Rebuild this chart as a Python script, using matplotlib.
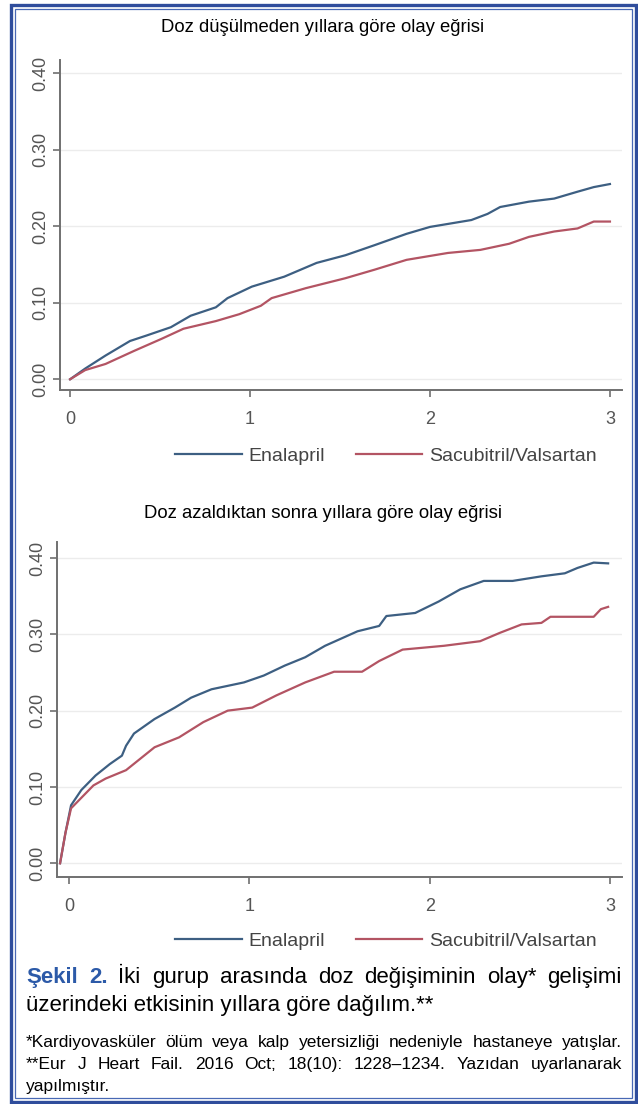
import matplotlib
matplotlib.use("Agg")
import matplotlib.pyplot as plt
from matplotlib.patches import Rectangle

plt.rcParams["font.family"] = ["Liberation Sans", "DejaVu Sans"]

# 1 - DATA
title1 = "Doz düşülmeden yıllara göre olay eğrisi"
title2 = "Doz azaldıktan sonra yıllara göre olay eğrisi"
series_names = ["Enalapril", "Sacubitril/Valsartan"]
x_ticks = [0, 1, 2, 3]
y_ticks = [0.0, 0.1, 0.2, 0.3, 0.4]
y_tick_labels = ["0.00", "0.10", "0.20", "0.30", "0.40"]

# chart 1: without dose reduction
enal1_x = [0, 0.084, 0.197, 0.333, 0.423, 0.56, 0.67, 0.81, 0.875, 1.01, 1.19, 1.37, 1.53,
           1.69, 1.87, 2.0, 2.23, 2.32, 2.39, 2.55, 2.69, 2.82, 2.91, 3.0]
enal1_y = [0, 0.014, 0.031, 0.050, 0.057, 0.068, 0.083, 0.094, 0.106, 0.121, 0.134, 0.152, 0.162,
           0.175, 0.190, 0.199, 0.208, 0.216, 0.225, 0.232, 0.236, 0.245, 0.251, 0.255]
sac1_x = [0, 0.084, 0.197, 0.355, 0.51, 0.63, 0.81, 0.94, 1.06, 1.12, 1.31, 1.53, 1.69, 1.87,
          2.10, 2.28, 2.44, 2.55, 2.69, 2.82, 2.91, 3.0]
sac1_y = [0, 0.012, 0.020, 0.037, 0.053, 0.066, 0.076, 0.085, 0.096, 0.106, 0.119, 0.132, 0.143,
          0.156, 0.165, 0.169, 0.177, 0.186, 0.193, 0.197, 0.206, 0.206]

# chart 2: after dose reduction
enal2_x = [-0.05, -0.02, 0.011, 0.068, 0.147, 0.226, 0.293, 0.316, 0.36, 0.474, 0.587, 0.677,
           0.79, 0.97, 1.08, 1.196, 1.31, 1.42, 1.60, 1.72, 1.76, 1.92, 2.05, 2.17, 2.30, 2.46,
           2.62, 2.75, 2.82, 2.91, 2.99]
enal2_y = [0.0, 0.04, 0.076, 0.096, 0.115, 0.130, 0.141, 0.154, 0.170, 0.189, 0.204, 0.217,
           0.228, 0.237, 0.246, 0.259, 0.270, 0.285, 0.304, 0.311, 0.324, 0.328, 0.343, 0.359,
           0.370, 0.370, 0.376, 0.380, 0.387, 0.394, 0.393]
sac2_x = [-0.05, -0.02, 0.011, 0.135, 0.203, 0.316, 0.474, 0.61, 0.745, 0.88, 1.016, 1.15,
          1.31, 1.47, 1.625, 1.72, 1.85, 2.08, 2.28, 2.39, 2.51, 2.62, 2.67, 2.91, 2.95, 2.99]
sac2_y = [0.0, 0.04, 0.072, 0.102, 0.111, 0.122, 0.152, 0.165, 0.185, 0.200, 0.204, 0.220,
          0.237, 0.251, 0.251, 0.265, 0.280, 0.285, 0.291, 0.302, 0.313, 0.315, 0.323, 0.323,
          0.333, 0.336]

caption1 = ["Şekil", "2.", "İki", "gurup", "arasında", "doz", "değişiminin", "olay*", "gelişimi"]
caption2 = "üzerindeki etkisinin yıllara göre dağılım.**"
note1 = "*Kardiyovasküler ölüm veya kalp yetersizliği nedeniyle hastaneye yatışlar."
note2 = "**Eur J Heart Fail. 2016 Oct; 18(10): 1228–1234. Yazıdan uyarlanarak"
note3 = "yapılmıştır."

BLUE = "#3d5f82"
RED = "#b35463"
GRAY = "#555555"
FRAME = "#2f4d9c"

W, H = 638, 1104
fig = plt.figure(figsize=(W / 100, H / 100), dpi=100)


def px(x, y):
    # pixel position (from top-left) -> figure fraction
    return x / W, 1 - y / H


def kaplan_panel(rect, xs, ys, xlim, ylim, title, title_y, legend_y):
    ax = fig.add_axes(rect)
    for yt in y_ticks:
        ax.axhline(yt, color="#ececec", lw=1, zorder=0)
    ax.plot(xs[0], ys[0], color=BLUE, lw=1.6, label=series_names[0])
    ax.plot(xs[1], ys[1], color=RED, lw=1.6, label=series_names[1])
    ax.set_xlim(*xlim)
    ax.set_ylim(*ylim)
    ax.set_xticks(x_ticks)
    ax.set_yticks(y_ticks)
    ax.set_yticklabels(y_tick_labels, rotation=90, va="center")
    for s in ["top", "right"]:
        ax.spines[s].set_visible(False)
    for s in ["left", "bottom"]:
        ax.spines[s].set_color("#707070")
        ax.spines[s].set_linewidth(1.4)
    ax.tick_params(colors="#707070", labelcolor=GRAY, labelsize=13, length=5, width=1.2)
    ax.tick_params(axis="x", pad=10)
    ax.tick_params(axis="y", pad=3)
    fig.text(*px(323, title_y), title, ha="center", va="center", fontsize=13.3)
    ax.legend(loc="center", bbox_to_anchor=px(386, legend_y), bbox_transform=fig.transFigure,
              ncol=2, frameon=False, fontsize=14, handlelength=3.4, columnspacing=1.6,
              handletextpad=0.35, labelcolor="#444444")
    return ax


kaplan_panel([60 / W, 1 - 390 / H, 562 / W, 330 / H],
             [enal1_x, sac1_x], [enal1_y, sac1_y],
             (-0.056, 3.067), (-0.014, 0.417), title1, 27, 456)
kaplan_panel([57 / W, 1 - 877 / H, 565 / W, 335 / H],
             [enal2_x, sac2_x], [enal2_y, sac2_y],
             (-0.067, 3.067), (-0.018, 0.421), title2, 513, 941)

renderer = fig.canvas.get_renderer()


def justify(words, y, x0, x1, size, props=None):
    # spread words so the line runs from x0 to x1 (pixels); y is the baseline
    props = props or [{}] * len(words)
    texts = []
    for w, p in zip(words, props):
        kw = dict(fontsize=size, va="baseline", ha="left")
        kw.update(p)
        texts.append(fig.text(*px(x0, y), w, **kw))
    widths = [t.get_window_extent(renderer).width for t in texts]
    gap = (x1 - x0 - sum(widths)) / (len(words) - 1)
    x = x0
    for t, wd in zip(texts, widths):
        t.set_x(x / W)
        x += wd + gap


cap_props = [dict(color="#2c5aa8", weight="bold")] * 2 + [{}] * (len(caption1) - 2)
justify(caption1, 983, 26, 622, 16, props=cap_props)
fig.text(*px(26, 1011), caption2, fontsize=16, va="baseline")

justify(note1.split(" "), 1047, 26, 622, 12.5)
justify(note2.split(" "), 1069, 26, 622, 12.5)
fig.text(*px(26, 1091), note3, fontsize=12.5, va="baseline")

# double frame round the figure
fig.add_artist(Rectangle(px(11, 1102), 625 / W, 1097 / H, transform=fig.transFigure,
                         fill=False, edgecolor=FRAME, lw=2.4))
fig.add_artist(Rectangle(px(15, 1098), 617 / W, 1089 / H, transform=fig.transFigure,
                         fill=False, edgecolor="#4868b4", lw=0.9))

fig.savefig("out.png", dpi=100)
